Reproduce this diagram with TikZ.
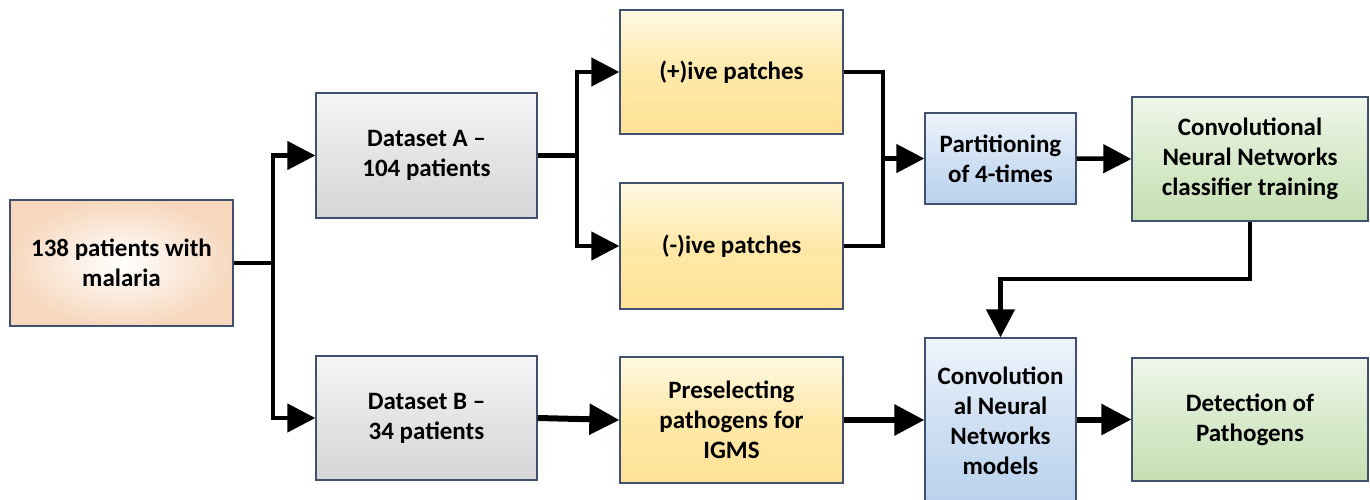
\documentclass[tikz,border=0pt]{standalone}
\usepackage{fontspec}
\setmainfont{Carlito}
\usetikzlibrary{arrows.meta}
\definecolor{bordc}{HTML}{40506E}
\tikzset{
  box/.style={draw=bordc, line width=1.3pt, align=center, inner sep=2pt,
    font=\bfseries\fontsize{25}{30}\selectfont, text=black},
  graybox/.style={box, top color={rgb,255:red,245;green,245;blue,245}, bottom color={rgb,255:red,214;green,214;blue,214}, middle color={rgb,255:red,228;green,228;blue,228}},
  yelbox/.style={box, top color={rgb,255:red,255;green,249;blue,227}, bottom color={rgb,255:red,255;green,226;blue,150}, middle color={rgb,255:red,255;green,232;blue,168}},
  bluebox/.style={box, top color={rgb,255:red,238;green,244;blue,251}, bottom color={rgb,255:red,184;green,209;blue,236}, middle color={rgb,255:red,208;green,224;blue,243}},
  greenbox/.style={box, top color={rgb,255:red,240;green,246;blue,235}, bottom color={rgb,255:red,197;green,223;blue,178}, middle color={rgb,255:red,216;green,234;blue,204}},
  peachbox/.style={box, inner color=white, outer color={rgb,255:red,247;green,216;blue,190}},
  conn/.style={line width=4.5pt, line join=miter, black},
  arr/.style={conn, -{Triangle[length=28pt,width=28pt]}},
  thickarr/.style={line width=6pt, black, -{Triangle[length=30pt,width=30pt]}},
}
\begin{document}
\begin{tikzpicture}[x=1pt,y=-1pt]
\useasboundingbox (0,0) rectangle (1370,500);
\node[peachbox, minimum width=223pt, minimum height=126pt] (n1) at (121.5,263) {138 patients with\\malaria};
\node[graybox, minimum width=221pt, minimum height=125pt] (dA) at (426.5,155.5) {Dataset A –\\104 patients};
\node[graybox, minimum width=221pt, minimum height=124pt] (dB) at (426.5,418) {Dataset B –\\34 patients};
\node[yelbox, minimum width=223pt, minimum height=124pt] (pos) at (731.5,72) {(+)ive patches};
\node[yelbox, minimum width=223pt, minimum height=126pt] (neg) at (731.5,246) {(-)ive patches};
\node[yelbox, minimum width=223pt, minimum height=126pt] (pre) at (731.5,420) {Preselecting\\pathogens for\\IGMS};
\node[bluebox, minimum width=151pt, minimum height=91pt] (part) at (1000.5,158.5) {Partitioning\\of 4-times};
\node[greenbox, minimum width=236pt, minimum height=124pt] (cnnT) at (1250,159) {Convolutional\\Neural Networks\\classifier training};
\node[bluebox, minimum width=151pt, minimum height=166pt] (cnnM) at (1000.5,421) {Convolution\\al Neural\\Networks\\models};
\node[greenbox, minimum width=236pt, minimum height=123pt] (det) at (1250,419.5) {Detection of\\Pathogens};

\coordinate (j1) at (273,263);
\coordinate (j2) at (577,155.5);
\coordinate (j3) at (883,158.5);
\coordinate (j4) at (1250,279);

\draw[conn] (n1.east) -- (j1);
\draw[arr] (j1) |- (dA.west);
\draw[arr] (j1) |- (dB.west);
\draw[conn] (dA.east) -- (j2);
\draw[arr] (j2) |- (pos.west);
\draw[arr] (j2) |- (neg.west);
\draw[conn] (pos.east) -| (j3);
\draw[conn] (neg.east) -| (j3);
\draw[arr] (j3) -- (part.west);
\draw[arr] (part.east) -- (cnnT.west);
\draw[arr] (cnnT.south) -- (j4) -| (cnnM.north);
\draw[thickarr] (dB.east) -- (pre.west);
\draw[thickarr] (pre.east) -- (pre.east -| cnnM.west);
\draw[thickarr] (cnnM.east |- det.west) -- (det.west);
\end{tikzpicture}
\end{document}
